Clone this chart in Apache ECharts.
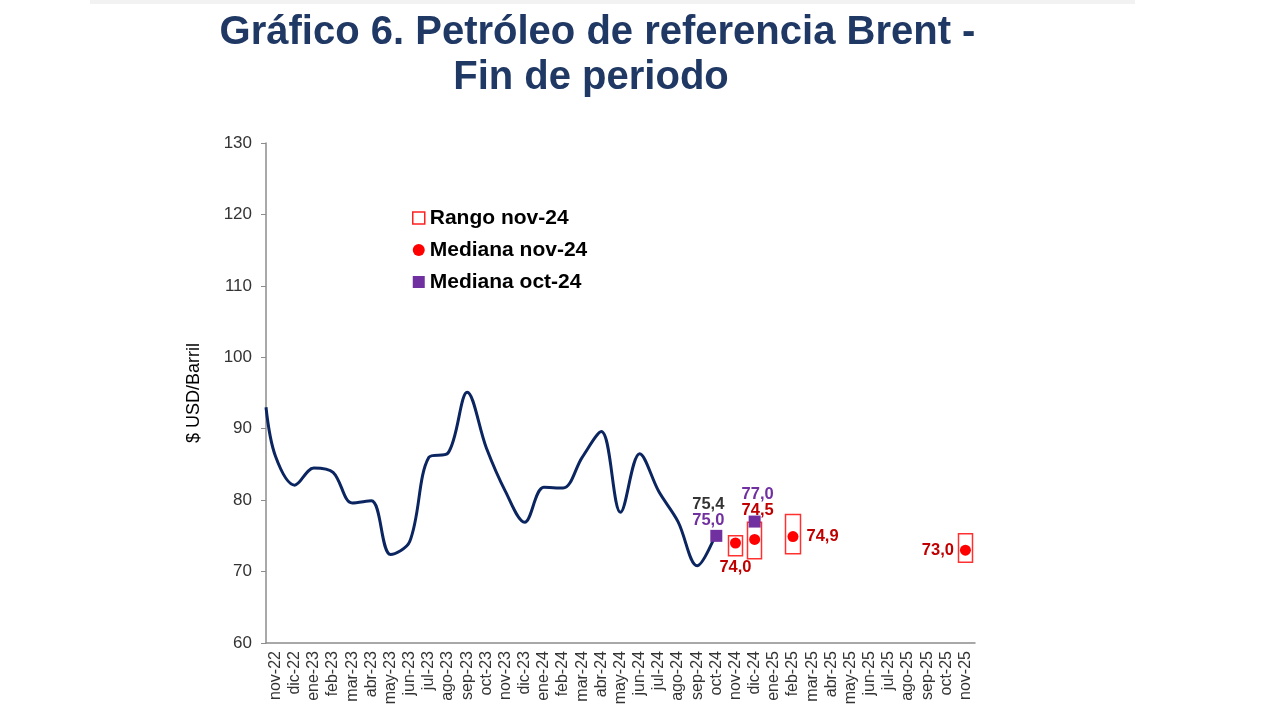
<!DOCTYPE html>
<html>
<head>
<meta charset="utf-8">
<script src="https://cdn.jsdelivr.net/npm/echarts@6/dist/echarts.min.js"></script>
<style>html,body{margin:0;padding:0;background:#fff}#c{width:1280px;height:720px}</style>
</head>
<body>
<div id="c"></div>
<script>
// ---- data ----
const categories = ['nov-22','dic-22','ene-23','feb-23','mar-23','abr-23','may-23','jun-23','jul-23','ago-23','sep-23','oct-23','nov-23','dic-23','ene-24','feb-24','mar-24','abr-24','may-24','jun-24','jul-24','ago-24','sep-24','oct-24','nov-24','dic-24','ene-25','feb-25','mar-25','abr-25','may-25','jun-25','jul-25','ago-25','sep-25','oct-25','nov-25'];
// Brent, observed (value where the curve meets the y axis, then one value per month nov-22..oct-24)
const brentAtAxis = 93.0;
const brentValues = [86.1, 82.1, 84.5, 83.9, 79.6, 79.9, 72.4, 74.2, 86.0, 86.6, 95.1, 87.3, 81.2, 76.9, 81.8, 81.7, 86.0, 89.6, 78.3, 86.5, 81.2, 77.0, 70.8, 75.4];
// Survey nov-24: range and median
const rangeCats = ['nov-24', 'dic-24', 'feb-25', 'nov-25'];
const rangeLow  = [72.2, 71.8, 72.5, 71.3];
const rangeHigh = [75.0, 76.9, 78.0, 75.3];
const medianNov = [74.0, 74.5, 74.9, 73.0];
// Survey oct-24: median
const medianOctCats = ['oct-24', 'dic-24'];
const medianOct = [75.0, 77.0];
const yTicks = [60, 70, 80, 90, 100, 110, 120, 130];

// ---- build ----
const fmt = v => v.toFixed(1).replace('.', ',');
const idx = c => categories.indexOf(c);
const lineData = [[-0.5, brentAtAxis]].concat(brentValues.map((v, i) => [i, v]));

const candleData = categories.map(() => '-');
rangeCats.forEach((c, k) => { candleData[idx(c)] = [rangeLow[k], rangeHigh[k], rangeLow[k], rangeHigh[k]]; });

const redLabelPos = [
  {position: 'bottom', distance: 10},
  {position: 'top', distance: 15, offset: [3, 0]},
  {position: 'right', distance: 8},
  {position: 'left', distance: 6}
];
const medNovData = categories.map(() => '-');
rangeCats.forEach((c, k) => {
  medNovData[idx(c)] = {value: medianNov[k], label: Object.assign({show: true, formatter: fmt(medianNov[k])}, redLabelPos[k])};
});

const purpleLabelPos = [
  {position: 'top', distance: 1, offset: [-8, 0]},
  {position: 'top', distance: 13, offset: [3, 0]}
];
const medOctData = categories.map(() => '-');
medianOctCats.forEach((c, k) => {
  medOctData[idx(c)] = {value: medianOct[k], label: Object.assign({show: true, formatter: fmt(medianOct[k])}, purpleLabelPos[k])};
});

const lastIdx = brentValues.length - 1;
const lastData = categories.map(() => '-');
lastData[lastIdx] = brentValues[lastIdx];

const labelFont = {fontFamily: 'Liberation Sans, Arial, sans-serif', fontWeight: 'bold', fontSize: 16.5};

const chart = echarts.init(document.getElementById('c'), null, {renderer: 'canvas'});
chart.setOption({
  animation: false,
  backgroundColor: '#fff',
  textStyle: {fontFamily: 'Liberation Sans, Arial, sans-serif'},
  graphic: [
    {type: 'rect', shape: {x: 90, y: 0, width: 1045, height: 4}, style: {fill: '#f2f2f2'}},
    {type: 'text', x: 597.5, y: 33, style: {text: 'Gráfico 6. Petróleo de referencia Brent -', fill: '#1F3864', font: 'bold 40px "Liberation Sans", Arial, sans-serif', align: 'center', verticalAlign: 'middle'}},
    {type: 'text', x: 591, y: 78, style: {text: 'Fin de periodo', fill: '#1F3864', font: 'bold 40px "Liberation Sans", Arial, sans-serif', align: 'center', verticalAlign: 'middle'}}
  ],
  legend: {
    orient: 'vertical',
    left: 407, top: 202,
    itemWidth: 12, itemHeight: 12, itemGap: 10,
    textStyle: {fontSize: 21, fontWeight: 'bold', color: '#000', lineHeight: 22, fontFamily: 'Liberation Sans, Arial, sans-serif'},
    data: [
      {name: 'Rango nov-24', icon: 'rect', itemStyle: {color: '#fff', borderColor: '#FF2020', borderWidth: 1.5}},
      {name: 'Mediana nov-24', icon: 'circle'},
      {name: 'Mediana oct-24', icon: 'rect'}
    ]
  },
  grid: {left: 266, right: 305, top: 143, bottom: 77, containLabel: false, outerBoundsMode: 'none'},
  xAxis: [
    {
      type: 'category', data: categories, boundaryGap: true,
      axisLine: {onZero: false, lineStyle: {color: '#8c8c8c', width: 1.5}},
      axisTick: {show: false},
      axisLabel: {rotate: 90, fontSize: 16, color: '#333', interval: 0, margin: 8}
    },
    {type: 'value', min: -0.5, max: 36.5, show: false}
  ],
  yAxis: {
    type: 'value', min: yTicks[0], max: yTicks[yTicks.length - 1], interval: 10,
    name: '$ USD/Barril', nameLocation: 'middle', nameGap: 63, nameRotate: 90,
    nameTextStyle: {fontSize: 18, color: '#000'},
    axisLine: {show: true, onZero: false, lineStyle: {color: '#8c8c8c', width: 1.5}},
    axisTick: {show: true, length: 5, lineStyle: {color: '#8c8c8c'}},
    splitLine: {show: false},
    axisLabel: {fontSize: 17, color: '#333', margin: 14}
  },
  series: [
    {
      name: 'Brent', type: 'line', xAxisIndex: 1, data: lineData,
      smooth: 0.35, symbol: 'none', clip: true,
      lineStyle: {color: '#0B2560', width: 3}, z: 2
    },
    {
      name: 'Rango nov-24', type: 'candlestick', data: candleData, barWidth: 15,
      itemStyle: {color: 'rgba(255,255,255,0)', color0: 'rgba(255,255,255,0)', borderColor: '#FF3030', borderColor0: '#FF3030', borderWidth: 1.5},
      z: 3
    },
    {
      name: 'Mediana nov-24', type: 'scatter', data: medNovData, symbol: 'circle', symbolSize: 11,
      itemStyle: {color: '#FF0000', opacity: 1},
      label: Object.assign({color: '#C00000'}, labelFont), z: 4
    },
    {
      name: 'Mediana oct-24', type: 'scatter', data: medOctData, symbol: 'rect', symbolSize: 12,
      itemStyle: {color: '#7030A0', opacity: 1},
      label: Object.assign({color: '#7030A0'}, labelFont), z: 5
    },
    {
      name: 'Último', type: 'scatter', data: lastData, symbolSize: 0,
      label: Object.assign({show: true, position: 'top', distance: 20, offset: [-8, 0], color: '#000', formatter: p => fmt(p.value)}, labelFont),
      z: 6
    }
  ]
});
</script>
</body>
</html>
